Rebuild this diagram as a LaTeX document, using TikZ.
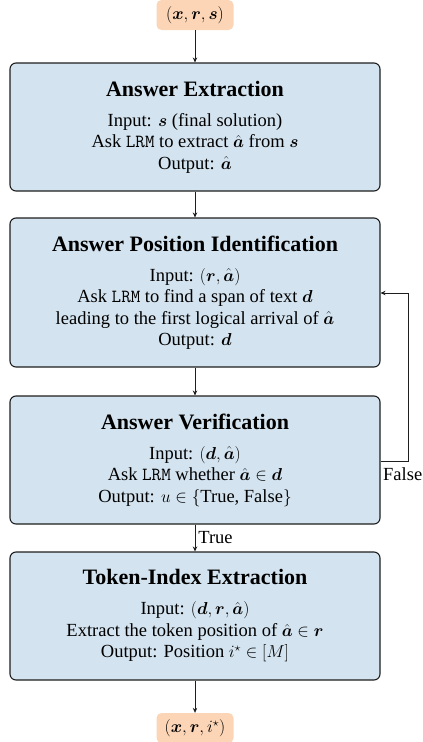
\documentclass[tikz,border=0pt]{standalone}
\usepackage{amsmath}
\usepackage{fontspec}
\setmainfont{Liberation Serif}
\usetikzlibrary{arrows.meta}

\definecolor{stepfill}{RGB}{211,227,239}
\definecolor{iofill}{RGB}{251,213,181}
\definecolor{edgegray}{RGB}{30,30,30}

\newcommand{\steptitle}[1]{{\fontsize{22}{26}\selectfont\bfseries #1}}

\tikzset{
  stepbox/.style={draw=edgegray, line width=1.1pt, fill=stepfill, rounded corners=6pt,
    minimum width=370pt, align=center, inner sep=0pt, font=\fontsize{18.5}{21.5}\selectfont},
  iobox/.style={fill=iofill, rounded corners=5pt, minimum width=77pt, minimum height=30pt,
    inner sep=0pt, font=\fontsize{18.5}{21.5}\selectfont},
  flow/.style={draw=edgegray, line width=0.7pt, -{Stealth[length=5pt,width=4.5pt]}},
  lbl/.style={font=\fontsize{18.5}{21.5}\selectfont, inner sep=0pt}
}

\newcommand{\bx}{\boldsymbol{x}}
\newcommand{\br}{\boldsymbol{r}}
\newcommand{\bs}{\boldsymbol{s}}
\newcommand{\bd}{\boldsymbol{d}}
\newcommand{\ba}{\hat{\boldsymbol{a}}}

\begin{document}
\begin{tikzpicture}[x=1pt,y=-1pt]
  \useasboundingbox (0,0) rectangle (423,742);

  % input and output tuples
  \node[iobox] (in)  at (195,15)  {$(\bx,\br,\bs)$};
  \node[iobox] (out) at (195,728) {$(\bx,\br,i^{\star})$};

  % processing steps
  \node[stepbox, minimum height=128pt] (ext) at (195,127) {%
    \steptitle{Answer Extraction}\\[8.5pt]
    Input: $\bs$ (final solution)\\
    Ask \texttt{LRM} to extract $\ba$ from $\bs$\\
    Output: $\ba$};

  \node[stepbox, minimum height=149pt] (pos) at (195,292.5) {%
    \steptitle{Answer Position Identification}\\[8.5pt]
    Input: $(\br,\ba)$\\
    Ask \texttt{LRM} to find a span of text $\bd$\\
    leading to the first logical arrival of $\ba$\\
    Output: $\bd$};

  \node[stepbox, minimum height=128pt] (ver) at (195,460) {%
    \steptitle{Answer Verification}\\[8.5pt]
    Input: $(\bd,\ba)$\\
    Ask \texttt{LRM} whether $\ba\in\bd$\\
    Output: $u\in\{\text{True, False}\}$};

  \node[stepbox, minimum height=128pt] (tok) at (195,616) {%
    \steptitle{Token-Index Extraction}\\[8.5pt]
    Input: $(\bd,\br,\ba)$\\
    Extract the token position of $\ba\in\br$\\
    Output: Position $i^{\star}\in[M]$};

  % main flow
  \draw[flow] (in) -- (ext);
  \draw[flow] (ext) -- (pos);
  \draw[flow] (pos) -- (ver);
  \draw[flow] (ver) -- node[lbl, right=3pt, pos=0.5] (tl) {True} (tok);
  \draw[flow] (tok) -- (out);

  % retry loop when verification fails
  \coordinate (loopx) at (408,0);
  \draw[flow] (ver.east |- 0,461) -- (loopx |- 0,461) -- (loopx |- 0,293) -- (pos.east |- 0,293);
  \node[lbl, anchor=north west] (fl) at (383,467) {False};
\end{tikzpicture}
\end{document}
